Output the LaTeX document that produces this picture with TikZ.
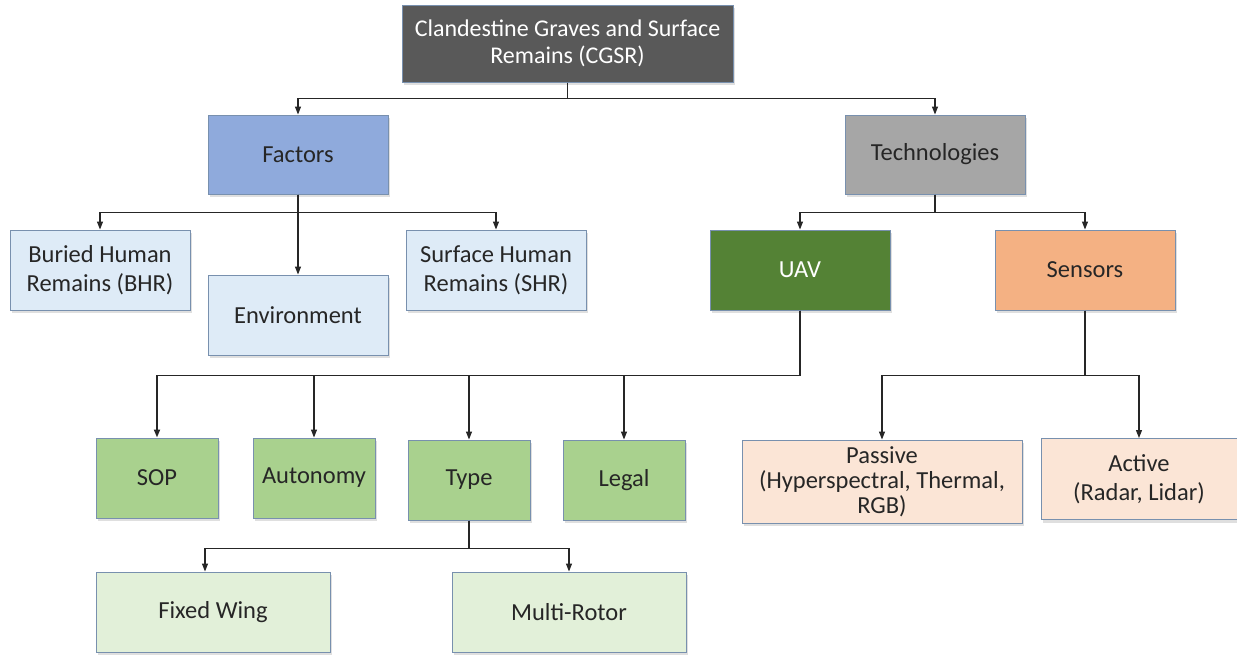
\documentclass[tikz,border=0pt]{standalone}
\usepackage{fontspec}
\setmainfont{Carlito}
\usetikzlibrary{arrows.meta,shadows}
\definecolor{cgsrc}{HTML}{595959}
\definecolor{factc}{HTML}{8FAADC}
\definecolor{techc}{HTML}{A6A6A6}
\definecolor{lblue}{HTML}{DEEBF7}
\definecolor{uavc}{HTML}{548235}
\definecolor{sensc}{HTML}{F4B183}
\definecolor{greenc}{HTML}{A9D18E}
\definecolor{lgreen}{HTML}{E2F0D9}
\definecolor{peach}{HTML}{FBE5D6}
\definecolor{bordc}{HTML}{7890AE}
\definecolor{txtc}{HTML}{262626}
\definecolor{linec}{HTML}{262626}
\tikzset{
  box/.style={draw=bordc, line width=1pt, rectangle, align=center, inner sep=2pt,
    text=txtc, font=\fontsize{24.5}{29}\selectfont,
    drop shadow={opacity=0.25, shadow xshift=2pt, shadow yshift=-3pt}},
  arr/.style={draw=linec, line width=1.1pt, -{Triangle[length=8pt,width=6pt]}},
  ln/.style={draw=linec, line width=1.1pt}
}
\begin{document}
\begin{tikzpicture}[x=1pt,y=-1pt]
\useasboundingbox (0,0) rectangle (1237,654);
\fill[white] (0,0) rectangle (1237,654);
% nodes
\node[box, fill=cgsrc, text=white, font=\fontsize{24}{27.5}\selectfont, minimum width=331pt, minimum height=77pt] (cgsr) at (567.5,43.5) {Clandestine Graves and Surface\\Remains (CGSR)};
\node[box, fill=factc, minimum width=180pt, minimum height=79pt] (fact) at (298,154.5) {Factors};
\node[box, fill=techc, minimum width=180pt, minimum height=79pt] (tech) at (935,154.5) {Technologies};
\node[box, fill=lblue, minimum width=180pt, minimum height=80pt] (bhr) at (100,270) {Buried Human\\Remains (BHR)};
\node[box, fill=lblue, minimum width=180pt, minimum height=80pt] (env) at (298,315) {Environment};
\node[box, fill=lblue, minimum width=180pt, minimum height=80pt] (shr) at (496,270) {Surface Human\\Remains (SHR)};
\node[box, fill=uavc, text=white, minimum width=180pt, minimum height=80pt] (uav) at (800,270) {UAV};
\node[box, fill=sensc, minimum width=180pt, minimum height=80pt] (sens) at (1085,270) {Sensors};
\node[box, fill=greenc, minimum width=122pt, minimum height=80pt] (sop) at (157,478) {SOP};
\node[box, fill=greenc, minimum width=122pt, minimum height=80pt] (auto) at (314,478) {Autonomy};
\node[box, fill=greenc, minimum width=122pt, minimum height=80pt] (type) at (469,480) {Type};
\node[box, fill=greenc, minimum width=122pt, minimum height=80pt] (legal) at (624,480) {Legal};
\node[box, fill=lgreen, minimum width=234pt, minimum height=80pt] (fw) at (213,612) {Fixed Wing};
\node[box, fill=lgreen, minimum width=234pt, minimum height=80pt] (mr) at (569,612) {Multi-Rotor};
\node[box, fill=peach, font=\fontsize{24.5}{25}\selectfont, minimum width=280pt, minimum height=83pt] (pass) at (882,481.5) {Passive\\(Hyperspectral, Thermal,\\RGB)};
\node[box, fill=peach, minimum width=196pt, minimum height=81pt] (act) at (1139,479) {Active\\(Radar, Lidar)};
% connectors
\draw[arr] (cgsr.south) -- ++(0,16) -| (fact.north);
\draw[arr] (cgsr.south) -- ++(0,16) -| (tech.north);
\draw[arr] (fact.south) -- ++(0,18) -| (bhr.north);
\draw[arr] (fact.south) -- ++(0,18) -| (shr.north);
\draw[arr] (fact.south) -- (env.north);
\draw[arr] (tech.south) -- ++(0,18) -| (uav.north);
\draw[arr] (tech.south) -- ++(0,18) -| (sens.north);
\draw[arr, line width=1.8pt] (uav.south) -- ++(0,65) -| (sop.north);
\draw[arr] (uav.south) -- ++(0,65) -| (auto.north);
\draw[arr] (uav.south) -- ++(0,65) -| (type.north);
\draw[arr] (uav.south) -- ++(0,65) -| (legal.north);
\draw[arr] (type.south) -- ++(0,28) -| ([xshift=-8pt]fw.north);
\draw[arr] (type.south) -- ++(0,28) -| (mr.north);
\draw[arr] (sens.south) -- ++(0,65) -| (pass.north);
\draw[arr] (sens.south) -- ++(0,65) -| (act.north);
\end{tikzpicture}
\end{document}
